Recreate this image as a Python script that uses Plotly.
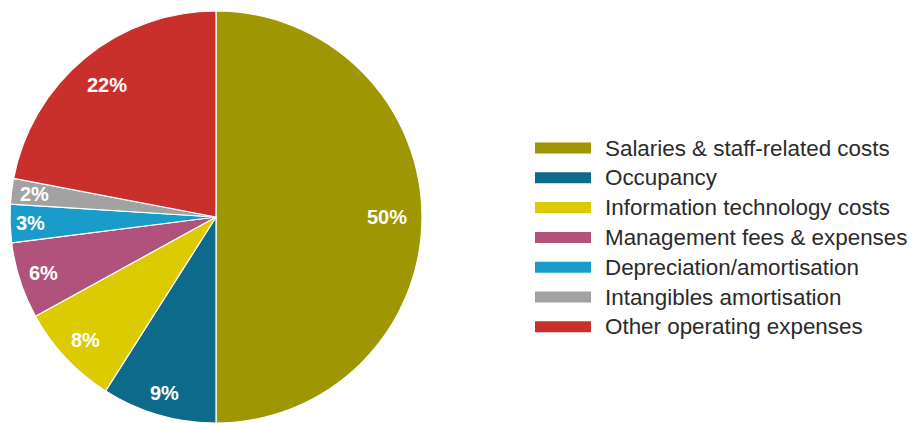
import math
import plotly.graph_objects as go

# Operating expense breakdown (% of total)
categories = [
    "Salaries & staff-related costs",
    "Occupancy",
    "Information technology costs",
    "Management fees & expenses",
    "Depreciation/amortisation",
    "Intangibles amortisation",
    "Other operating expenses",
]
shares = [50, 9, 8, 6, 3, 2, 22]
colors = ["#9E9602", "#0D6A8A", "#DCCB00", "#B0527C", "#1A9CCB", "#A2A2A2", "#C9302C"]
# radial placement (fraction of radius) of each percentage label
label_radius = [0.83, 0.89, 0.87, 0.88, 0.9, 0.89, 0.83]

W, H = 915, 423
# pie domain in pixels (left, right, top, bottom)
px_left, px_right, px_top, px_bottom = 10, 422, 11, 423
dom_x = [px_left / W, px_right / W]
dom_y = [(H - px_bottom) / H, (H - px_top) / H]
cx = (px_left + px_right) / 2
cy = (px_top + px_bottom) / 2
R = (px_right - px_left) / 2

fig = go.Figure(
    go.Pie(
        labels=categories,
        values=shares,
        sort=False,
        direction="clockwise",
        rotation=0,
        marker=dict(colors=colors, line=dict(color="white", width=1.2)),
        textinfo="none",
        hoverinfo="label+percent",
        domain=dict(x=dom_x, y=dom_y),
        showlegend=False,
    )
)

annotations = []
total = sum(shares)
cum = 0
for v, rf in zip(shares, label_radius):
    mid = (cum + v / 2) / total * 2 * math.pi
    cum += v
    x = cx + rf * R * math.sin(mid)
    y = cy - rf * R * math.cos(mid)
    annotations.append(dict(
        x=x / W, y=1 - y / H, xref="paper", yref="paper",
        text=f"<b>{v}%</b>", showarrow=False,
        font=dict(family="Liberation Sans", size=20, color="white"),
        xanchor="center", yanchor="middle",
    ))

# legend: wide colour swatches with labels
sw_x0, sw_x1 = 535, 591
text_x = 603
row_y0, row_step = 148, 29.8
shapes = []
for i, (name, col) in enumerate(zip(categories, colors)):
    yc = row_y0 + i * row_step
    shapes.append(dict(
        type="rect", xref="paper", yref="paper",
        x0=sw_x0 / W, x1=sw_x1 / W,
        y0=1 - (yc - 5.5) / H, y1=1 - (yc + 5.5) / H,
        fillcolor=col, line=dict(width=0),
    ))
    annotations.append(dict(
        x=text_x / W, y=1 - yc / H, xref="paper", yref="paper",
        text=name, showarrow=False, xanchor="left", yanchor="middle",
        font=dict(family="Liberation Sans", size=22.4, color="#2b2b2b"),
    ))

fig.update_layout(
    width=W, height=H,
    margin=dict(l=0, r=0, t=0, b=0),
    paper_bgcolor="white",
    plot_bgcolor="white",
    annotations=annotations,
    shapes=shapes,
)

fig.write_html("out.html")
